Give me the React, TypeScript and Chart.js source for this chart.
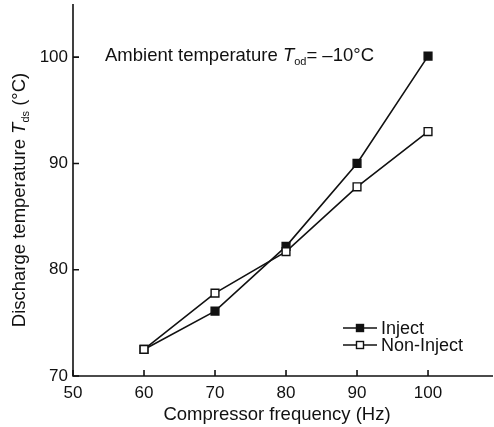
import React, { useEffect, useRef } from "react";
import { Chart, registerables } from "chart.js";
Chart.register(...registerables);

const frequencies = [60, 70, 80, 90, 100];
const injectTemps = [72.5, 76.1, 82.2, 90.0, 100.1];
const nonInjectTemps = [72.5, 77.8, 81.7, 87.8, 93.0];
const xTicks = [50, 60, 70, 80, 90, 100];
const yTicks = [70, 80, 90, 100];
const seriesNames = ["Inject", "Non-Inject"];
const xTitle = "Compressor frequency (Hz)";

const FONT = '"Liberation Sans", Arial, Helvetica, sans-serif';
const INK = "#111";
const TSIZE = 18.5;

type Part = { text: string; italic?: boolean; sub?: boolean };

function partFont(p: Part, size: number) {
  const s = p.sub ? Math.round(size * 0.6) : size;
  return `${p.italic ? "italic " : ""}${s}px ${FONT}`;
}

function richWidth(ctx: CanvasRenderingContext2D, parts: Part[], size: number) {
  let w = 0;
  for (const p of parts) {
    ctx.font = partFont(p, size);
    w += ctx.measureText(p.text).width;
  }
  return w;
}

function drawRich(ctx: CanvasRenderingContext2D, parts: Part[], x: number, y: number, size: number) {
  ctx.textBaseline = "alphabetic";
  ctx.textAlign = "left";
  let cx = x;
  for (const p of parts) {
    ctx.font = partFont(p, size);
    ctx.fillText(p.text, cx, p.sub ? y + size * 0.22 : y);
    cx += ctx.measureText(p.text).width;
  }
}

const decorPlugin = {
  id: "decor",
  afterDatasetsDraw(chart: any) {
    const { ctx, chartArea, scales } = chart;
    const xs = scales.x;
    const ys = scales.y;
    ctx.save();
    ctx.strokeStyle = INK;
    ctx.fillStyle = INK;
    ctx.lineWidth = 1.6;
    // axes
    ctx.beginPath();
    ctx.moveTo(chartArea.left, chartArea.top);
    ctx.lineTo(chartArea.left, chartArea.bottom);
    ctx.lineTo(chartArea.right, chartArea.bottom);
    ctx.stroke();
    // inward ticks
    ctx.beginPath();
    for (const v of xTicks) {
      const px = xs.getPixelForValue(v);
      ctx.moveTo(px, chartArea.bottom);
      ctx.lineTo(px, chartArea.bottom - 6);
    }
    for (const v of yTicks) {
      const py = ys.getPixelForValue(v);
      ctx.moveTo(chartArea.left, py);
      ctx.lineTo(chartArea.left + 6, py);
    }
    ctx.stroke();

    // x title
    ctx.font = `${TSIZE}px ${FONT}`;
    ctx.textAlign = "center";
    ctx.textBaseline = "alphabetic";
    ctx.fillText(xTitle, 277, 420);

    // y title (rotated)
    const yParts: Part[] = [
      { text: "Discharge temperature " },
      { text: "T", italic: true },
      { text: "ds", sub: true },
      { text: " (°C)" },
    ];
    const yw = richWidth(ctx, yParts, TSIZE);
    ctx.save();
    ctx.translate(25, 200);
    ctx.rotate(-Math.PI / 2);
    drawRich(ctx, yParts, -yw / 2, 0, TSIZE);
    ctx.restore();

    // annotation
    const aParts: Part[] = [
      { text: "Ambient temperature " },
      { text: "T", italic: true },
      { text: "od", sub: true },
      { text: "= \u201310°C" },
    ];
    drawRich(ctx, aParts, 105, 61, TSIZE);

    // legend
    const legendRows = [
      { name: seriesNames[0], y: 328, fill: INK },
      { name: seriesNames[1], y: 345, fill: "#fff" },
    ];
    for (const row of legendRows) {
      ctx.lineWidth = 1.6;
      ctx.beginPath();
      ctx.moveTo(343, row.y);
      ctx.lineTo(377, row.y);
      ctx.stroke();
      ctx.fillStyle = row.fill;
      ctx.fillRect(356.5, row.y - 3.5, 7, 7);
      ctx.lineWidth = 1.4;
      ctx.strokeRect(356.5, row.y - 3.5, 7, 7);
      ctx.fillStyle = INK;
      ctx.font = `18px ${FONT}`;
      ctx.textAlign = "left";
      ctx.textBaseline = "middle";
      ctx.fillText(row.name, 381, row.y + 1);
    }
    ctx.restore();
  },
};

export default function App() {
  const ref = useRef<HTMLCanvasElement | null>(null);
  useEffect(() => {
    if (!ref.current) return;
    const chart = new Chart(ref.current, {
      type: "line",
      data: {
        datasets: [
          {
            label: seriesNames[0],
            data: frequencies.map((f, i) => ({ x: f, y: injectTemps[i] })),
            borderColor: INK,
            borderWidth: 1.6,
            pointStyle: "rect",
            pointRadius: 5.5,
            pointBackgroundColor: INK,
            pointBorderColor: INK,
            pointBorderWidth: 1.4,
            order: 2,
          },
          {
            label: seriesNames[1],
            data: frequencies.map((f, i) => ({ x: f, y: nonInjectTemps[i] })),
            borderColor: INK,
            borderWidth: 1.6,
            pointStyle: "rect",
            pointRadius: 5.5,
            pointBackgroundColor: "#fff",
            pointBorderColor: INK,
            pointBorderWidth: 1.4,
            order: 1,
          },
        ],
      },
      options: {
        animation: false,
        responsive: false,
        maintainAspectRatio: false,
        layout: { autoPadding: false, padding: { top: 4, right: 1, left: 0, bottom: 0 } },
        plugins: { legend: { display: false }, tooltip: { enabled: false } },
        scales: {
          x: {
            type: "linear",
            min: 50,
            max: 109.15,
            afterFit: (s: any) => {
              s.height = 51;
              s.paddingLeft = 0;
              s.paddingRight = 0;
            },
            afterBuildTicks: (s: any) => {
              s.ticks = xTicks.map((v) => ({ value: v }));
            },
            grid: { display: false, drawTicks: false },
            border: { display: false },
            ticks: {
              padding: 7,
              color: INK,
              font: { family: FONT, size: 17 },
              maxRotation: 0,
            },
          },
          y: {
            type: "linear",
            min: 70,
            max: 105,
            afterFit: (s: any) => {
              s.width = 73;
              s.paddingTop = 0;
              s.paddingBottom = 0;
            },
            afterBuildTicks: (s: any) => {
              s.ticks = yTicks.map((v) => ({ value: v }));
            },
            grid: { display: false, drawTicks: false },
            border: { display: false },
            ticks: {
              padding: 5,
              color: INK,
              font: { family: FONT, size: 17 },
            },
          },
        },
      },
      plugins: [decorPlugin],
    });
    return () => chart.destroy();
  }, []);
  return (
    <div style={{ position: "fixed", left: 0, top: 0, width: 494, height: 427, background: "#fff" }}>
      <canvas ref={ref} width={494} height={427} style={{ width: 494, height: 427 }} />
    </div>
  );
}
